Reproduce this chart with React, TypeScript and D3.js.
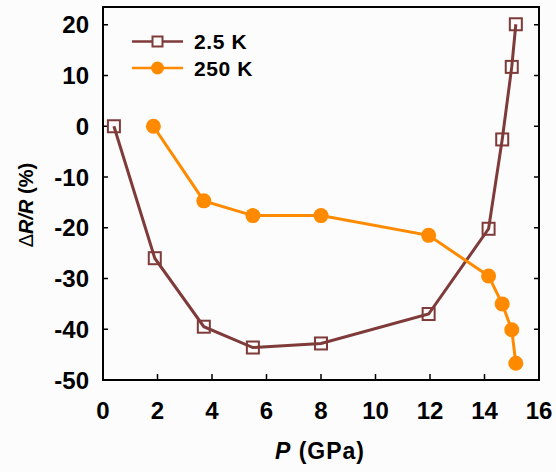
import React, { useRef, useEffect } from 'react'
import * as d3 from 'd3'

// 2.5 K series (squares)
const pLow = [0.4, 1.9, 3.7, 5.5, 8.0, 11.95, 14.15, 14.65, 15.0, 15.15]
const rLow = [0, -26, -39.5, -43.6, -42.8, -37, -20.2, -2.6, 11.7, 20.1]
// 250 K series (circles)
const pHigh = [1.85, 3.7, 5.5, 8.0, 11.95, 14.15, 14.65, 15.0, 15.15]
const rHigh = [0, -14.7, -17.6, -17.6, -21.5, -29.5, -35, -40.1, -46.7]

const xTicks = [0, 2, 4, 6, 8, 10, 12, 14, 16]
const yTicks = [20, 10, 0, -10, -20, -30, -40, -50]
const seriesNames = ['2.5 K', '250 K']

const BROWN = '#7f3a3a'
const ORANGE = '#ff8a00'

const App = () => {
  const svgRef = useRef<SVGSVGElement>(null)

  useEffect(() => {
    const svg = d3.select(svgRef.current)
    svg.selectAll('*').remove()

    const width = 556
    const height = 472
    const m = { left: 103, right: 539, top: 7, bottom: 380 }

    svg.attr('width', width).attr('height', height)
    svg.append('rect').attr('width', width).attr('height', height).attr('fill', '#fbfcfb')

    const x = d3.scaleLinear().domain([0, 16]).range([m.left, m.right])
    const y = d3.scaleLinear().domain([-50, 23.5]).range([m.bottom, m.top])

    const font = 'Arial, "Liberation Sans", sans-serif'

    // ticks (inward)
    const g = svg.append('g')
    xTicks.forEach(t => {
      g.append('line')
        .attr('x1', x(t)).attr('x2', x(t))
        .attr('y1', m.bottom).attr('y2', m.bottom - 6)
        .attr('stroke', '#000').attr('stroke-width', 1.5)
      g.append('text')
        .attr('x', x(t)).attr('y', m.bottom + 39)
        .attr('text-anchor', 'middle')
        .attr('font-family', font).attr('font-weight', 'bold').attr('font-size', 24)
        .text(t)
    })
    yTicks.forEach(t => {
      g.append('line')
        .attr('x1', m.left).attr('x2', m.left + 5)
        .attr('y1', y(t)).attr('y2', y(t))
        .attr('stroke', '#000').attr('stroke-width', 1.5)
      g.append('line')
        .attr('x1', m.right).attr('x2', m.right - 5)
        .attr('y1', y(t)).attr('y2', y(t))
        .attr('stroke', '#000').attr('stroke-width', 1.5)
      g.append('text')
        .attr('x', m.left - 14).attr('y', y(t) + 8.5)
        .attr('text-anchor', 'end')
        .attr('font-family', font).attr('font-weight', 'bold').attr('font-size', 24)
        .text(t)
    })

    // frame
    svg.append('rect')
      .attr('x', m.left).attr('y', m.top)
      .attr('width', m.right - m.left).attr('height', m.bottom - m.top)
      .attr('fill', 'none').attr('stroke', '#000').attr('stroke-width', 2)

    const line = d3.line<[number, number]>().x(d => x(d[0])).y(d => y(d[1]))

    const low: [number, number][] = pLow.map((p, i) => [p, rLow[i]])
    const high: [number, number][] = pHigh.map((p, i) => [p, rHigh[i]])

    svg.append('path').attr('d', line(low)).attr('fill', 'none').attr('stroke', BROWN).attr('stroke-width', 3)
    svg.append('path').attr('d', line(high)).attr('fill', 'none').attr('stroke', ORANGE).attr('stroke-width', 3)

    const sq = 12
    svg.selectAll('.sq').data(low).enter().append('rect')
      .attr('x', d => x(d[0]) - sq / 2).attr('y', d => y(d[1]) - sq / 2)
      .attr('width', sq).attr('height', sq)
      .attr('fill', 'none').attr('stroke', BROWN).attr('stroke-width', 2)
    svg.selectAll('.ci').data(high).enter().append('circle')
      .attr('cx', d => x(d[0])).attr('cy', d => y(d[1]))
      .attr('r', 7.5).attr('fill', ORANGE)

    // legend
    const leg = svg.append('g')
    const lx1 = 132, lx2 = 183, lxm = 157.5
    const ly = [41.5, 68]
    leg.append('line').attr('x1', lx1).attr('x2', lx2).attr('y1', ly[0]).attr('y2', ly[0])
      .attr('stroke', BROWN).attr('stroke-width', 2.5)
    leg.append('rect').attr('x', lxm - 5).attr('y', ly[0] - 5).attr('width', 10).attr('height', 10)
      .attr('fill', '#fbfcfb').attr('stroke', BROWN).attr('stroke-width', 2)
    leg.append('line').attr('x1', lx1).attr('x2', lx2).attr('y1', ly[1]).attr('y2', ly[1])
      .attr('stroke', ORANGE).attr('stroke-width', 2.5)
    leg.append('circle').attr('cx', lxm).attr('cy', ly[1]).attr('r', 6.5).attr('fill', ORANGE)
    seriesNames.forEach((s, i) => {
      leg.append('text')
        .attr('x', 194).attr('y', ly[i] + 7.5)
        .attr('font-family', font).attr('font-weight', 'bold').attr('font-size', 21)
        .attr('letter-spacing', 0.6)
        .text(s)
    })

    // axis titles
    const xt = svg.append('text')
      .attr('x', 320).attr('y', 459)
      .attr('text-anchor', 'middle')
      .attr('font-family', font).attr('font-weight', 'bold').attr('font-size', 23)
      .attr('letter-spacing', 1)
    xt.append('tspan').attr('font-style', 'italic').text('P')
    xt.append('tspan').text(' (GPa)')

    const yt = svg.append('text')
      .attr('transform', 'translate(33,205) rotate(-90)')
      .attr('text-anchor', 'middle')
      .attr('font-family', font).attr('font-weight', 'bold').attr('font-size', 20)
    yt.append('tspan').attr('font-weight', 'normal').text('Δ')
    yt.append('tspan').attr('font-style', 'italic').text('R/R')
    yt.append('tspan').text(' (%)')
  }, [])

  return <svg ref={svgRef} style={{ position: 'absolute', left: 0, top: 0 }}></svg>
}

export default App
